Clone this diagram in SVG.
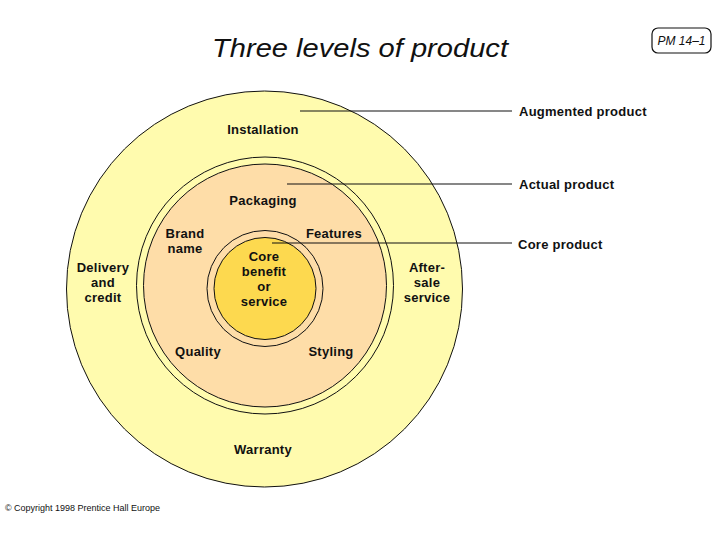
<svg xmlns="http://www.w3.org/2000/svg" width="720" height="540" viewBox="0 0 720 540">
<style>
.lbl{font-family:"Liberation Sans",Arial,sans-serif;font-size:13px;font-weight:bold;fill:#111;letter-spacing:0.25px}
.ring{fill:none;stroke:#111;stroke-width:1}
.lead{stroke:#111;stroke-width:1.2;fill:none}
</style>
<rect width="720" height="540" fill="#fff"/>
<text x="212" y="57" font-family="Liberation Sans,Arial,sans-serif" font-size="25" font-style="italic" fill="#111" textLength="296" lengthAdjust="spacingAndGlyphs">Three levels of product</text>
<g id="pm-label">
<rect x="652" y="28" width="59" height="25" rx="6" fill="#fff" stroke="#111" stroke-width="1.2"/>
<text x="681.5" y="45" text-anchor="middle" font-family="Liberation Sans,Arial,sans-serif" font-size="12" font-style="italic" fill="#111">PM 14–1</text>
</g>
<g id="augmented">
<circle cx="264.5" cy="289" r="198" fill="#FFFBAE" stroke="#111" stroke-width="1"/>
<text class="lbl" x="263" y="134" text-anchor="middle">Installation</text>
<text class="lbl" x="103" y="272" text-anchor="middle">Delivery</text>
<text class="lbl" x="103" y="287" text-anchor="middle">and</text>
<text class="lbl" x="103" y="302" text-anchor="middle">credit</text>
<text class="lbl" x="427" y="272" text-anchor="middle">After-</text>
<text class="lbl" x="427" y="287" text-anchor="middle">sale</text>
<text class="lbl" x="427" y="302" text-anchor="middle">service</text>
<text class="lbl" x="263" y="454" text-anchor="middle">Warranty</text>
</g>
<g id="actual">
<circle class="ring" cx="265" cy="285.5" r="128.5"/>
<circle cx="265" cy="285.5" r="121.5" fill="#FEDDA8" stroke="#111" stroke-width="1"/>
<text class="lbl" x="263" y="205" text-anchor="middle">Packaging</text>
<text class="lbl" x="185" y="238" text-anchor="middle">Brand</text>
<text class="lbl" x="185" y="253" text-anchor="middle">name</text>
<text class="lbl" x="334" y="238" text-anchor="middle">Features</text>
<text class="lbl" x="198" y="356" text-anchor="middle">Quality</text>
<text class="lbl" x="331" y="356" text-anchor="middle">Styling</text>
</g>
<g id="core">
<circle class="ring" cx="265" cy="288.5" r="58"/>
<circle cx="265" cy="288.5" r="51" fill="#FDD94F" stroke="#111" stroke-width="1"/>
<text class="lbl" x="264" y="261" text-anchor="middle">Core</text>
<text class="lbl" x="264" y="276" text-anchor="middle">benefit</text>
<text class="lbl" x="264" y="291" text-anchor="middle">or</text>
<text class="lbl" x="264" y="306" text-anchor="middle">service</text>
</g>
<g id="connectors">
<line class="lead" x1="300" y1="111" x2="512" y2="111"/>
<line class="lead" x1="287" y1="184" x2="512" y2="184"/>
<line class="lead" x1="272" y1="243" x2="512" y2="243"/>
</g>
<g id="callouts">
<text class="lbl" x="519" y="116">Augmented product</text>
<text class="lbl" x="519" y="189">Actual product</text>
<text class="lbl" x="518" y="249">Core product</text>
</g>
<text x="5" y="511" font-family="Liberation Sans,Arial,sans-serif" font-size="9" fill="#111" textLength="155" lengthAdjust="spacingAndGlyphs">© Copyright 1998 Prentice Hall Europe</text>
</svg>
